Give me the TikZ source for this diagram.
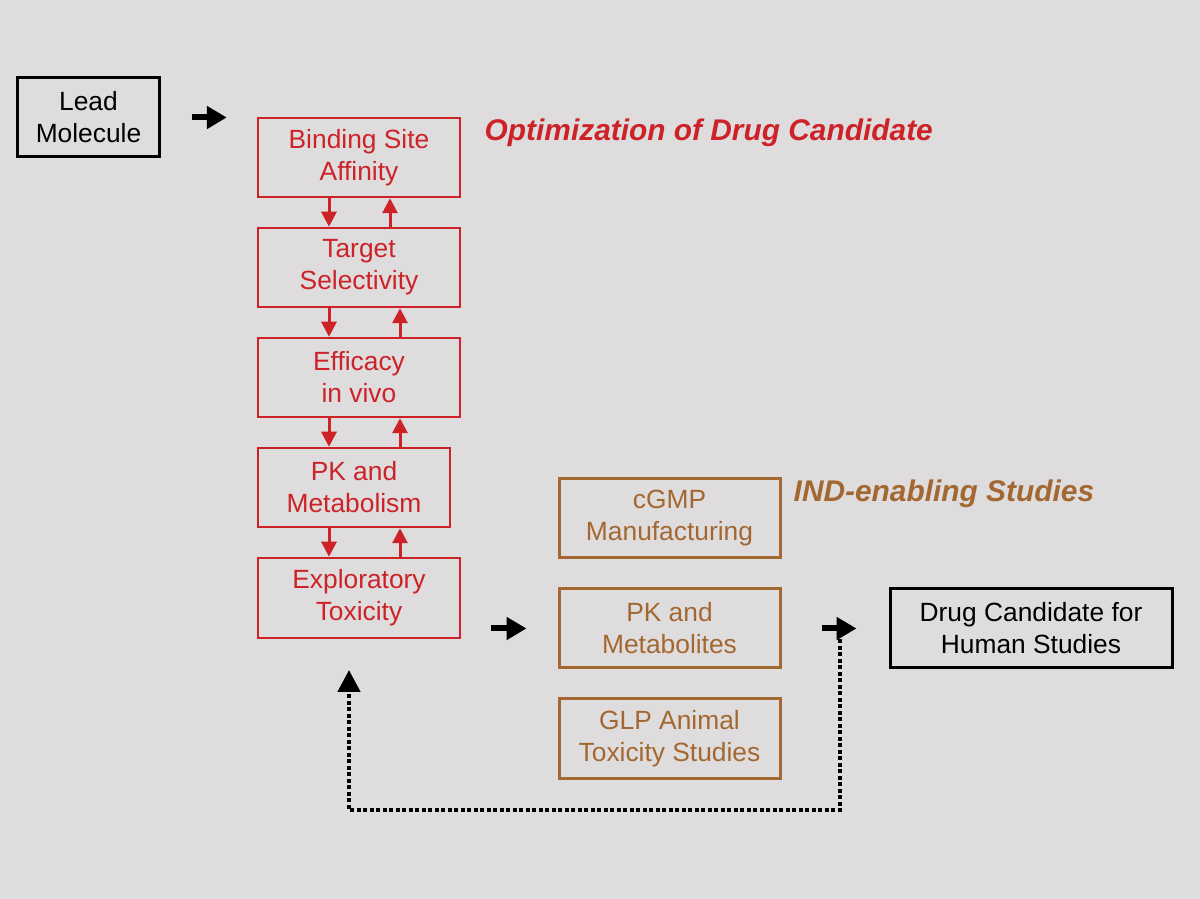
\documentclass[tikz,border=0pt]{standalone}
\usepackage{fontspec}
\setmainfont{Liberation Sans}
\usetikzlibrary{arrows.meta}

\definecolor{optred}{RGB}{204,34,40}
\definecolor{indbrown}{RGB}{163,104,50}
\definecolor{bggray}{RGB}{222,220,220}

\begin{document}
\begin{tikzpicture}[
            font = \fontsize{7.5}{9.1}\selectfont,
            bigarrow/.style = {line width=0.06cm, -{Triangle[length=0.2cm, width=0.22cm]}},
            redarrow/.style = {optred, line width=0.03cm, -{Triangle[length=0.15cm, width=0.15cm]}},
            loopline/.style = {line width=0.045cm, dash pattern=on 0.04cm off 0.025cm,
                               -{Triangle[length=0.22cm, width=0.22cm]}}
        ]

        \tikzstyle{every node}=[align=center, inner sep=0pt]
        \tikzstyle{blackbox}=[draw=black, line width=0.03cm, minimum height=0.79cm]
        \tikzstyle{optbox}=[draw=optred, text=optred, line width=0.025cm,
                            minimum width=2.02cm, minimum height=0.79cm]
        \tikzstyle{indbox}=[draw=indbrown, text=indbrown, line width=0.03cm,
                            minimum width=2.21cm, minimum height=0.79cm]

        % page and background
        \fill[bggray] (0,0) rectangle (12,-8.99);
        \useasboundingbox (0,0) rectangle (12,-8.99);

        \node[blackbox, minimum width=1.41cm] (lead) at (0.885,-1.175) {Lead\\Molecule};

        % optimization column
        \node[optbox] (bind)   at (3.59,-1.575) {Binding Site\\Affinity};
        \node[optbox] (target) at (3.59,-2.675) {Target\\Selectivity};
        \node[optbox] (effic)  at (3.59,-3.775) {Efficacy\\in vivo};
        \node[optbox, minimum width=1.92cm] (pk) at (3.54,-4.875) {PK and\\Metabolism};
        \node[optbox, minimum height=0.80cm] (explor) at (3.59,-5.98) {Exploratory\\Toxicity};

        \node[anchor=west, text=optred, font=\fontsize{8.5}{10}\selectfont\bfseries\itshape]
            (opttitle) at (4.84,-1.33) {Optimization of Drug Candidate};

        % IND-enabling column
        \node[indbox] (cgmp) at (6.695,-5.185) {cGMP\\Manufacturing};
        \node[indbox] (pkm)  at (6.695,-6.285) {PK and\\Metabolites};
        \node[indbox, minimum height=0.80cm] (glp) at (6.695,-7.39) {GLP Animal\\Toxicity Studies};

        \node[anchor=west, text=indbrown, font=\fontsize{8.5}{10}\selectfont\bfseries\itshape]
            (indtitle) at (7.93,-4.94) {IND-enabling Studies};

        \node[blackbox, minimum width=2.82cm] (drug) at (10.31,-6.285) {Drug Candidate for\\Human Studies};

        % arrows between stages
        \draw[bigarrow, shorten <=0.31cm, shorten >=0.30cm] (lead.east) -- (lead.east -| bind.west);
        \draw[bigarrow, shorten <=0.30cm, shorten >=0.31cm] (explor.east |- pkm.west) -- (pkm.west);
        \draw[bigarrow, shorten <=0.40cm, shorten >=0.32cm] (pkm.east) -- (drug.west);

        % up and down within the optimization column
        \foreach \a/\b/\u in {bind/target/0.31, target/effic/0.41, effic/pk/0.41, pk/explor/0.41}{
            \draw[redarrow] ([xshift=-0.30cm]bind.south |- \a.south) -- ([xshift=-0.30cm]bind.south |- \b.north);
            \draw[redarrow] ([xshift=\u cm]bind.south |- \b.north) -- ([xshift=\u cm]bind.south |- \a.south);
        }

        % feedback loop
        \coordinate (loopstart) at (8.40,-6.33);
        \coordinate (loopend) at (3.49,-6.70);
        \draw[loopline] (loopstart) -- (8.40,-8.10) -| (loopend);
    \end{tikzpicture}
\end{document}
